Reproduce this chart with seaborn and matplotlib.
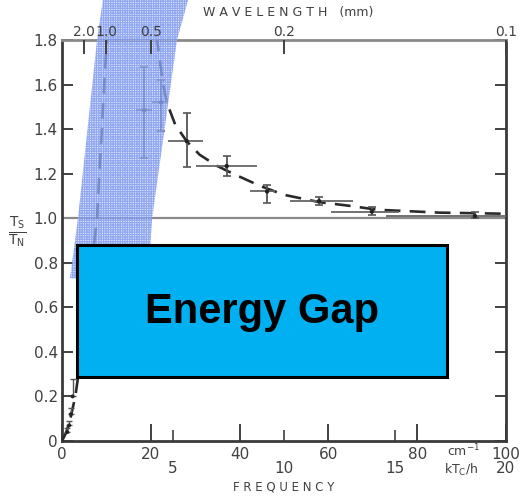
import matplotlib
matplotlib.use("Agg")
import matplotlib.pyplot as plt
from matplotlib.patches import Rectangle
import numpy as np
import pandas as pd
import seaborn as sns

sns.set_theme(style="white")
plt.rcParams["font.family"] = ["DejaVu Sans"]
plt.rcParams["hatch.linewidth"] = 0.8

INK = "#404040"

# Theoretical curves, Ts/Tn vs frequency (cm^-1)
low_freq = [0, 1, 2, 3, 3.5, 5, 7.2, 7.9, 8.4, 9.0, 9.5, 10.1]
low_ratio = [0, 0.04, 0.11, 0.2, 0.27, 0.5, 0.88, 1.0, 1.2, 1.4, 1.6, 1.8]
high_freq = [21.3, 22.7, 23.6, 25.5, 28.1, 31, 34.9, 38.5, 44.6, 50, 58, 65, 71,
             85, 100]
high_ratio = [1.82, 1.61, 1.52, 1.42, 1.345, 1.285, 1.235, 1.20, 1.145, 1.105,
              1.072, 1.055, 1.038, 1.025, 1.02]

# Measured points with frequency span and ratio uncertainty
pt_freq = [18.5, 22.3, 28.1, 37.1, 46.2, 57.9, 69.8, 93.0]
pt_ratio = [1.485, 1.52, 1.346, 1.234, 1.12, 1.077, 1.03, 1.01]
pt_f_lo = [16.7, 20.3, 23.9, 30.2, 42.3, 51.4, 60.5, 73.0]
pt_f_hi = [20.3, 23.9, 31.8, 43.9, 48.0, 65.5, 76.0, 100.0]
pt_r_lo = [1.27, 1.39, 1.23, 1.19, 1.07, 1.06, 1.015, 1.0]
pt_r_hi = [1.68, 1.62, 1.47, 1.28, 1.15, 1.095, 1.05, 1.03]

# Low-frequency measurements
lf_freq = [1.2, 1.6, 2.0, 2.4]
lf_ratio = [0.04, 0.07, 0.12, 0.2]
lf_r_hi = [0.06, 0.09, 0.15, 0.28]

# Shaded gap region (frequency bounds at given ratios)
band_ratio = [0.73, 1.0, 1.8, 1.98]
band_left = [1.8, 3.6, 7.9, 9.2]
band_right = [19.4, 20.3, 25.9, 28.4]

yticks = [0, 0.2, 0.4, 0.6, 0.8, 1.0, 1.2, 1.4, 1.6, 1.8]
ytick_labels = ["0", "0.2", "0.4", "0.6", "0.8", "1.0", "1.2", "1.4", "1.6", "1.8"]
xticks = [0, 20, 40, 60, 80, 100]
kt_ticks = [25, 50, 75, 100]
kt_labels = ["5", "10", "15", "20"]
wl_ticks = [5, 10, 20, 50, 100]
wl_labels = ["2.0", "1.0", "0.5", "0.2", "0.1"]

fig = plt.figure(figsize=(5.28, 5.01), dpi=100)
ax = fig.add_axes([0.1174, 0.1198, 0.8409, 0.8004])
ax.set_xlim(0, 100)
ax.set_ylim(0, 1.8)

ax.axhline(1.0, color="#8a8a8a", lw=1.6, zorder=1)

low = pd.DataFrame({"f": low_freq, "r": low_ratio})
high = pd.DataFrame({"f": high_freq, "r": high_ratio})
for df in (low, high):
    sns.lineplot(data=df, x="f", y="r", ax=ax, color="#2a2a2a", lw=1.9,
                 sort=False, zorder=3)
for line in ax.lines[1:]:
    line.set_dashes([6, 3.5])

pf = np.array(pt_freq)
pr = np.array(pt_ratio)
ax.errorbar(pf, pr, yerr=[pr - np.array(pt_r_lo), np.array(pt_r_hi) - pr],
            fmt="none", ecolor="#555555", elinewidth=1.3, capsize=3,
            capthick=1.2, zorder=4)
ax.errorbar(pf, pr, xerr=[pf - np.array(pt_f_lo), np.array(pt_f_hi) - pf],
            fmt="none", ecolor="#666666", elinewidth=1.3, capsize=0, zorder=4)
sns.scatterplot(x=pt_freq, y=pt_ratio, ax=ax, color="#222222", s=10,
                edgecolor="none", zorder=5)

lf = np.array(lf_ratio)
ax.errorbar(lf_freq, lf, yerr=[np.zeros_like(lf), np.array(lf_r_hi) - lf],
            fmt="none", ecolor="#555555", elinewidth=1.0, capsize=2, zorder=4)
sns.scatterplot(x=lf_freq, y=lf_ratio, ax=ax, color="#222222", s=8,
                edgecolor="none", zorder=5)

# Shaded band with a fine grid texture, translucent over the curves
ax.fill_betweenx(band_ratio, band_left, band_right, facecolor="#cdd9f9",
                 edgecolor="#5f80ea", hatch="+" * 7, alpha=0.62, lw=0,
                 clip_on=False, zorder=6)

# Frame
for side in ("left", "bottom", "right"):
    ax.spines[side].set_color("#3a3a3a")
    ax.spines[side].set_linewidth(2.0)
ax.spines["top"].set_color("#8a8a8a")
ax.spines["top"].set_linewidth(2.0)

ax.set_yticks(yticks)
ax.set_yticklabels(ytick_labels, fontsize=11, color=INK)
ax.tick_params(axis="y", direction="in", length=8, width=1.4, color=INK,
               left=True, right=True, pad=3)
ax.set_xticks(xticks)
ax.set_xticklabels([str(v) for v in xticks], fontsize=11, color=INK)
ax.set_xticks(kt_ticks[:3], minor=True)
ax.tick_params(axis="x", which="major", direction="in", length=12, width=1.4,
               color=INK, bottom=True, pad=4)
ax.tick_params(axis="x", which="minor", direction="in", length=8, width=1.2,
               color=INK, bottom=True)
ax.set_xlabel("")
ax.set_ylabel("")

xt = ax.get_xaxis_transform()
for f, lab in zip(kt_ticks, kt_labels):
    ax.text(f, -0.068, lab, transform=xt, ha="center", va="center",
            fontsize=11, color=INK)
ax.text(90.5, -0.024, r"cm$^{-1}$", transform=xt, ha="center", va="center",
        fontsize=9, color=INK)
ax.text(90.0, -0.072, r"kT$_{\rm C}$/h", transform=xt, ha="center",
        va="center", fontsize=9, color=INK)
ax.text(50, -0.115, "F R E Q U E N C Y", transform=xt, ha="center",
        va="center", fontsize=8.5, color=INK)

# Wavelength scale
top = ax.twiny()
top.set_xlim(0, 100)
top.set_xticks(wl_ticks)
top.set_xticklabels(wl_labels, fontsize=10, color=INK)
top.tick_params(axis="x", direction="in", length=10, width=1.4, color=INK,
                pad=1)
for s in top.spines.values():
    s.set_visible(False)
fig.text(0.545, 0.976, "W A V E L E N G T H   (mm)", ha="center",
         va="center", fontsize=9, color=INK)

fig.text(0.033, 0.537, r"$\frac{\mathrm{T_S}}{\mathrm{T_N}}$", ha="center",
         va="center", fontsize=14, color=INK)

# Overlay box
ax.add_patch(Rectangle((3.4, 0.287), 83.3, 0.593, facecolor="#00b0f0",
                       edgecolor="black", lw=2.2, zorder=10, clip_on=False))
ax.text(45, 0.58, "Energy Gap", ha="center", va="center", fontsize=30,
        fontweight="bold", family="Liberation Sans", color="black", zorder=11)

fig.savefig("out.png", dpi=100)
